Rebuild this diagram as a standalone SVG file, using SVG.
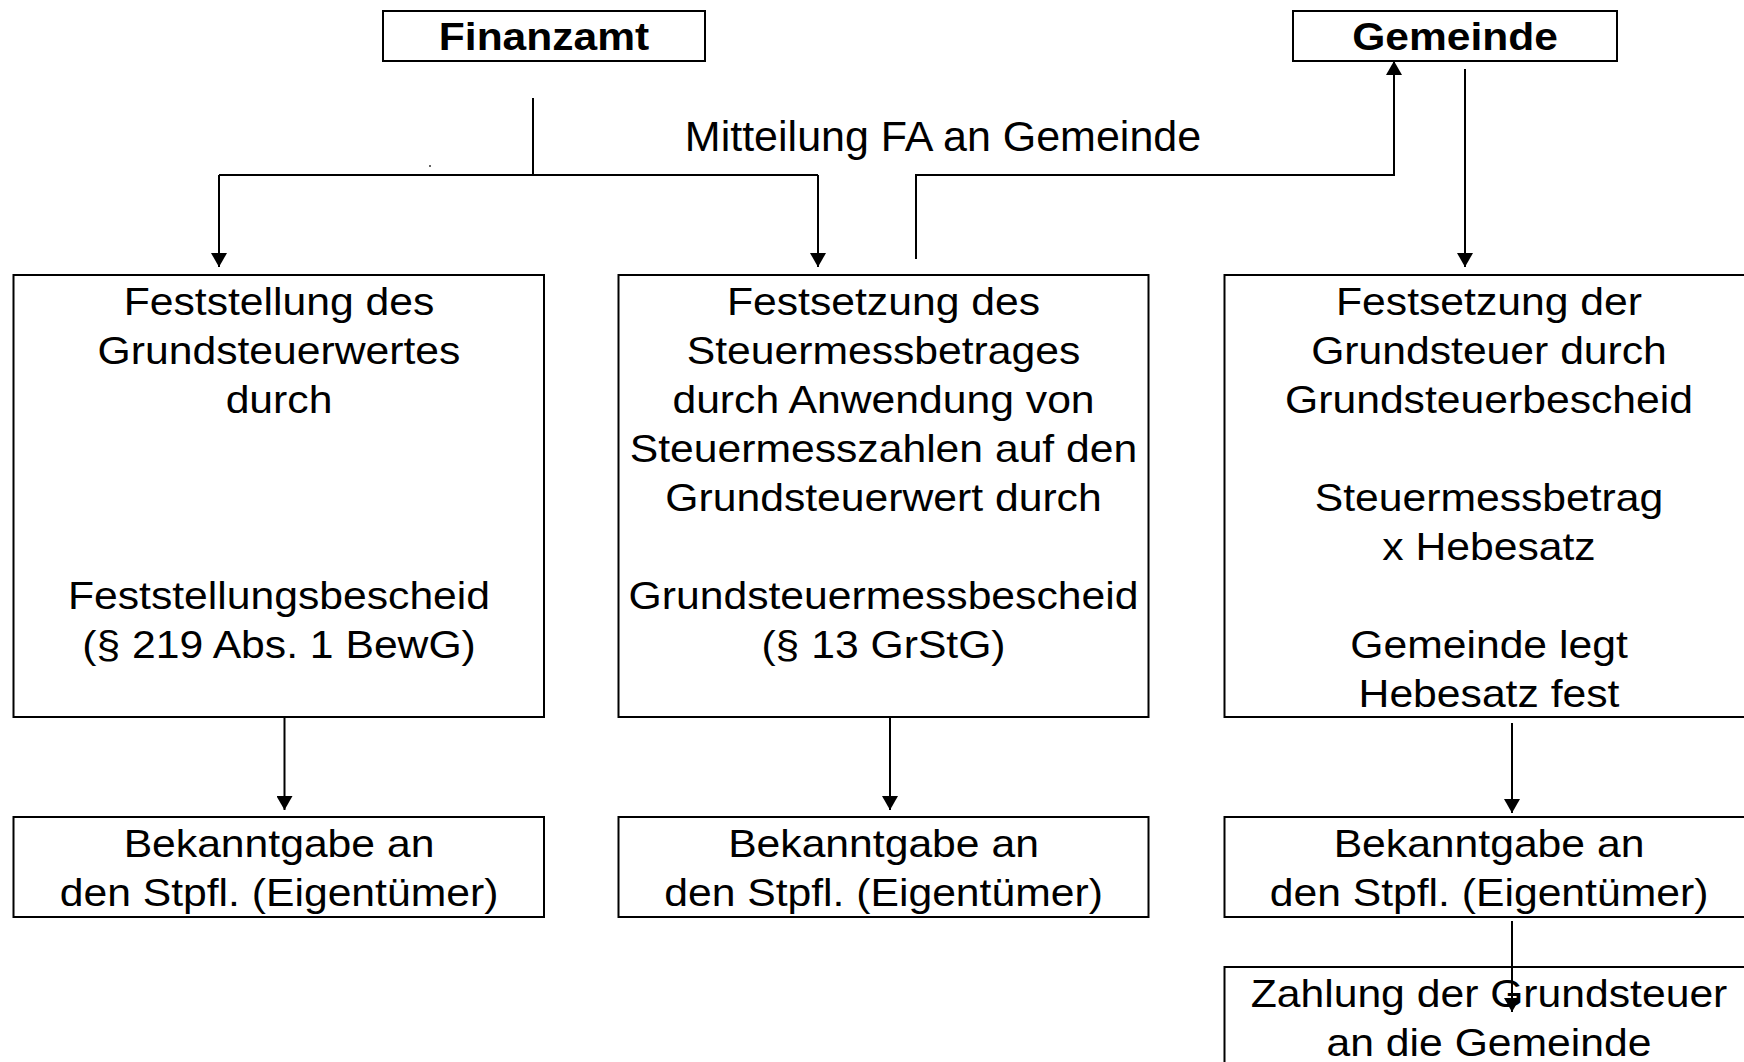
<svg xmlns="http://www.w3.org/2000/svg" width="1744" height="1062" viewBox="0 0 1744 1062">
<style>
.box{fill:#fff;stroke:#000;stroke-width:2}
.t{font-family:"Liberation Sans",Arial,sans-serif;font-size:38px;fill:#000;text-anchor:middle}
.b{font-weight:bold}
.c{fill:none;stroke:#000;stroke-width:2}
</style>
<defs>
<marker id="arr" markerUnits="userSpaceOnUse" markerWidth="16" markerHeight="16" refX="14" refY="8" orient="auto">
<path d="M0,0 L14,8 L0,16 Z" fill="#000"/>
</marker>
</defs>
<rect width="1744" height="1062" fill="#fff"/>

<g id="finanzamt">
<rect class="box" x="383" y="11" width="322" height="50"/>
<g transform="matrix(1.12,0,0,1,544,0)"><text class="t b" x="0" y="50">Finanzamt</text></g>
</g>

<g id="gemeinde">
<rect class="box" x="1293" y="11" width="324" height="50"/>
<g transform="matrix(1.12,0,0,1,1455,0)"><text class="t b" x="0" y="50">Gemeinde</text></g>
</g>

<g id="feststellung">
<rect class="box" x="13.5" y="275" width="530.5" height="442"/>
<g transform="matrix(1.123,0,0,1,279,0)">
<text class="t" x="0" y="315">Feststellung des</text>
<text class="t" x="0" y="364">Grundsteuerwertes</text>
<text class="t" x="0" y="413">durch</text>
<text class="t" x="0" y="609">Feststellungsbescheid</text>
<text class="t" x="0" y="658">(§ 219 Abs. 1 BewG)</text>
</g>
</g>

<g id="festsetzung-messbetrag">
<rect class="box" x="618.5" y="275" width="530" height="442"/>
<g transform="matrix(1.123,0,0,1,883.5,0)">
<text class="t" x="0" y="315">Festsetzung des</text>
<text class="t" x="0" y="364">Steuermessbetrages</text>
<text class="t" x="0" y="413">durch Anwendung von</text>
<text class="t" x="0" y="462">Steuermesszahlen auf den</text>
<text class="t" x="0" y="511">Grundsteuerwert durch</text>
<text class="t" x="0" y="609">Grundsteuermessbescheid</text>
<text class="t" x="0" y="658">(§ 13 GrStG)</text>
</g>
</g>

<g id="festsetzung-grundsteuer">
<rect class="box" x="1224.5" y="275" width="530" height="442"/>
<g transform="matrix(1.123,0,0,1,1489,0)">
<text class="t" x="0" y="315">Festsetzung der</text>
<text class="t" x="0" y="364">Grundsteuer durch</text>
<text class="t" x="0" y="413">Grundsteuerbescheid</text>
<text class="t" x="0" y="511">Steuermessbetrag</text>
<text class="t" x="0" y="560">x Hebesatz</text>
<text class="t" x="0" y="658">Gemeinde legt</text>
<text class="t" x="0" y="707">Hebesatz fest</text>
</g>
</g>

<g id="bekanntgabe-1">
<rect class="box" x="13.5" y="817" width="530.5" height="100"/>
<g transform="matrix(1.123,0,0,1,279,0)">
<text class="t" x="0" y="857">Bekanntgabe an</text>
<text class="t" x="0" y="906">den Stpfl. (Eigentümer)</text>
</g>
</g>

<g id="bekanntgabe-2">
<rect class="box" x="618.5" y="817" width="530" height="100"/>
<g transform="matrix(1.123,0,0,1,883.5,0)">
<text class="t" x="0" y="857">Bekanntgabe an</text>
<text class="t" x="0" y="906">den Stpfl. (Eigentümer)</text>
</g>
</g>

<g id="bekanntgabe-3">
<rect class="box" x="1224.5" y="817" width="530" height="100"/>
<g transform="matrix(1.123,0,0,1,1489,0)">
<text class="t" x="0" y="857">Bekanntgabe an</text>
<text class="t" x="0" y="906">den Stpfl. (Eigentümer)</text>
</g>
</g>

<g id="zahlung">
<rect class="box" x="1224.5" y="967" width="530" height="120"/>
<g transform="matrix(1.123,0,0,1,1489,0)">
<text class="t" x="0" y="1007">Zahlung der Grundsteuer</text>
<text class="t" x="0" y="1056">an die Gemeinde</text>
</g>
</g>

<g id="label-mitteilung">
<text x="943" y="150.5" style="font-family:'Liberation Sans',Arial,sans-serif;font-size:43px;text-anchor:middle">Mitteilung FA an Gemeinde</text>
</g>

<g id="connectors">
<rect x="429" y="165" width="2" height="2" fill="#666"/>
<path class="c" d="M533,98 V175"/>
<path class="c" d="M219,175 H818"/>
<path class="c" d="M219,175 V267" marker-end="url(#arr)"/>
<path class="c" d="M818,175 V267" marker-end="url(#arr)"/>
<path class="c" d="M916,259 V175 H1394 V61" marker-end="url(#arr)"/>
<path class="c" d="M1465,69 V267" marker-end="url(#arr)"/>
<path class="c" d="M284.5,717 V810" marker-end="url(#arr)"/>
<path class="c" d="M890,717 V810" marker-end="url(#arr)"/>
<path class="c" d="M1512,723 V813" marker-end="url(#arr)"/>
<path class="c" d="M1512,921 V1012" marker-end="url(#arr)"/>
</g>
</svg>
